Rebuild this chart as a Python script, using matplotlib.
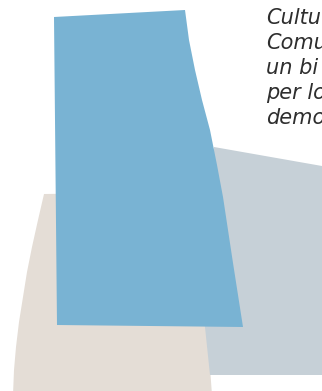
import matplotlib
matplotlib.use("Agg")
import matplotlib.pyplot as plt
from matplotlib.patches import Polygon

# Shape outlines (pixel space of the 322x391 picture, y downwards)
blue_x = [54, 185, 189, 195, 202, 210, 217, 223, 228, 233, 238, 243, 57]
blue_y = [17, 10, 40, 70, 100, 130, 165, 197, 230, 263, 295, 327, 325]

gray_x = [214, 322, 322, 210, 205, 200]
gray_y = [147, 166, 375, 375, 327, 200]

beige_x = [44, 200, 207, 212, 13, 14, 16, 19, 23, 27, 32, 38]
beige_y = [194, 192, 327, 395, 395, 370, 347, 322, 297, 272, 247, 220]

# Text lines (cut off by the right edge in the original)
lines = ["Cultu", "Comu", "un bi", "per lo", "demo"]
line_y = [24, 49, 74, 99, 124]

W, H = 322, 391
fig = plt.figure(figsize=(W / 100, H / 100), dpi=100)
ax = fig.add_axes([0, 0, 1, 1])
ax.set_xlim(0, W)
ax.set_ylim(H, 0)
ax.axis("off")

ax.add_patch(Polygon(list(zip(beige_x, beige_y)), closed=True, facecolor="#e4ddd6", edgecolor="none"))
ax.add_patch(Polygon(list(zip(gray_x, gray_y)), closed=True, facecolor="#c6d0d7", edgecolor="none"))
ax.add_patch(Polygon(list(zip(blue_x, blue_y)), closed=True, facecolor="#79b3d3", edgecolor="none"))

for txt, y in zip(lines, line_y):
    ax.text(266, y, txt, fontsize=15, style="italic", color="#2e2e2e",
            family="DejaVu Sans", ha="left", va="baseline")

fig.savefig("out.png", dpi=100)
